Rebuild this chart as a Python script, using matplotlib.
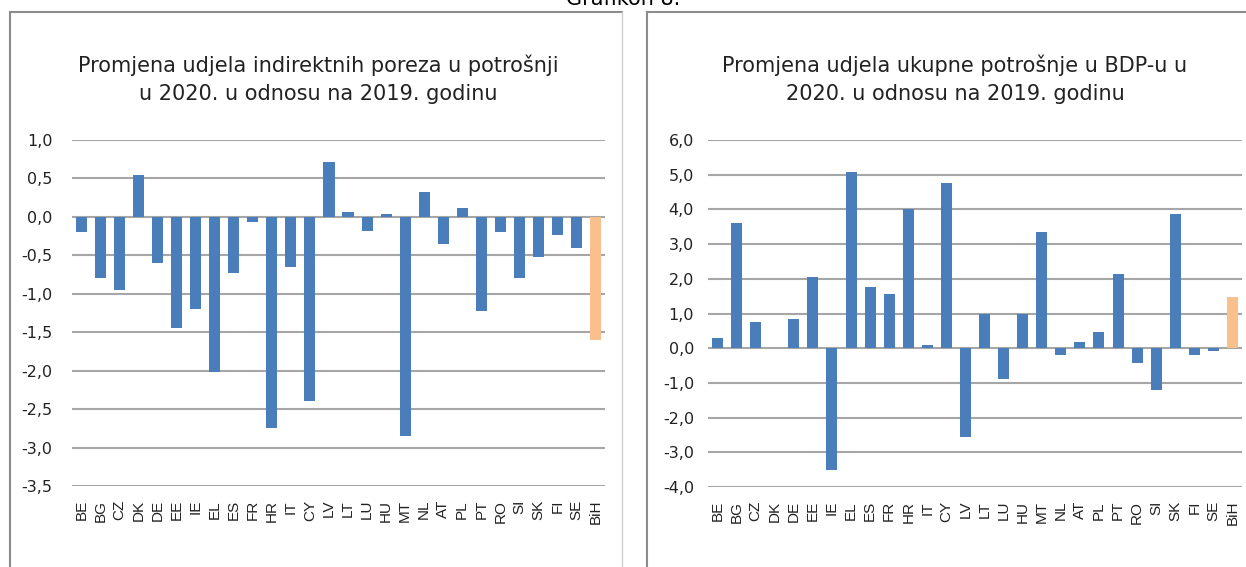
import matplotlib
matplotlib.use('Agg')
import matplotlib.pyplot as plt
from matplotlib import font_manager
from matplotlib.lines import Line2D
from matplotlib.ticker import FuncFormatter

# Data
countries = ['BE', 'BG', 'CZ', 'DK', 'DE', 'EE', 'IE', 'EL', 'ES', 'FR', 'HR', 'IT', 'CY', 'LV',
             'LT', 'LU', 'HU', 'MT', 'NL', 'AT', 'PL', 'PT', 'RO', 'SI', 'SK', 'FI', 'SE', 'BiH']
indirect_tax_change = [-0.20, -0.80, -0.95, 0.55, -0.60, -1.45, -1.20, -2.02, -0.73, -0.07,
                       -2.75, -0.65, -2.40, 0.72, 0.06, -0.18, 0.04, -2.85, 0.33, -0.35,
                       0.12, -1.22, -0.20, -0.80, -0.52, -0.23, -0.40, -1.60]
consumption_gdp_change = [0.30, 3.60, 0.75, 0.00, 0.85, 2.05, -3.50, 5.07, 1.75, 1.57,
                          4.00, 0.08, 4.77, -2.55, 0.98, -0.90, 0.98, 3.35, -0.20, 0.18,
                          0.48, 2.15, -0.42, -1.20, 3.87, -0.20, -0.08, 1.48]
title_left = 'Promjena udjela indirektnih poreza u potrošnji\nu 2020. u odnosu na 2019. godinu'
title_right = 'Promjena udjela ukupne potrošnje u BDP-u u\n2020. u odnosu na 2019. godinu'

blue = '#4a7ebb'
orange = '#f9bf8c'
grid_col = '#a6a6a6'

names = {f.name for f in font_manager.fontManager.ttflist}
if 'Liberation Sans Narrow' in names:
    title_font, title_size = 'Liberation Sans Narrow', 19
else:
    title_font, title_size = 'DejaVu Sans', 15

W, H = 1246, 567
fig = plt.figure(figsize=(W / 100, H / 100), dpi=100)
fig.patch.set_facecolor('white')

fig.text(0.5, 1 - 9 / H, 'Grafikon 8.', ha='center', va='bottom', fontsize=15,
         family='DejaVu Sans', color='black')

# panel frames
def frame(x0, x1):
    y0 = 1 - 12 / H
    fig.add_artist(Line2D([x0 / W, x0 / W], [0, y0], color='#8c8c8c', lw=1.5))
    fig.add_artist(Line2D([x0 / W, x1 / W], [y0, y0], color='#8c8c8c', lw=1.5))
    fig.add_artist(Line2D([x1 / W, x1 / W], [0, y0], color='#d0d0d0', lw=1.0))

frame(10, 622)
frame(647, 1250)

comma = FuncFormatter(lambda v, p: f'{v:.1f}'.replace('.', ','))


def panel(left, right, top, bottom, values, lo, hi, step, title, title_x, pad_y):
    ax = fig.add_axes([left / W, 1 - bottom / H, (right - left) / W, (bottom - top) / H])
    x = range(len(countries))
    colors = [blue] * (len(values) - 1) + [orange]
    ax.bar(x, values, width=0.58, color=colors, zorder=3)
    ax.set_xlim(-0.5, len(countries) - 0.5)
    ax.set_ylim(lo, hi)
    ticks = []
    v = lo
    while v <= hi + 1e-9:
        ticks.append(round(v, 2))
        v += step
    ax.set_yticks(ticks)
    ax.yaxis.set_major_formatter(comma)
    ax.grid(axis='y', color=grid_col, lw=1.5, zorder=0)
    for s in ax.spines.values():
        s.set_visible(False)
    ax.tick_params(axis='y', length=0, pad=pad_y, labelsize=11.5, labelcolor='#222222')
    ax.tick_params(axis='x', length=0, pad=10, labelsize=11, labelcolor='#222222')
    ax.set_xticks(list(x))
    ax.set_xticklabels(countries, rotation=90, family='Liberation Sans')
    for lab in ax.get_yticklabels():
        lab.set_family('DejaVu Sans')
    fig.text(title_x / W, 1 - 79 / H, title, ha='center', va='center', fontsize=title_size,
             family=[title_font, 'DejaVu Sans'], linespacing=1.5, color='#222222')
    return ax


panel(72, 605, 140, 486, indirect_tax_change, -3.5, 1.0, 0.5, title_left, 318, 14)
panel(708, 1242, 140, 487, consumption_gdp_change, -4.0, 6.0, 1.0, title_right, 955, 10)

fig.savefig('out.png', dpi=100)
